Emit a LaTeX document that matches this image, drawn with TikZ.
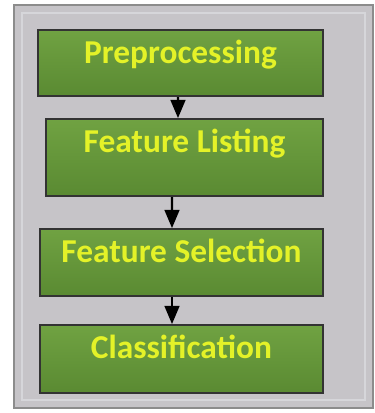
\documentclass[tikz,border=0pt]{standalone}
\usepackage{fontspec}
\setmainfont{Carlito}
\usetikzlibrary{arrows}

\definecolor{framegray}{RGB}{198,196,200}
\definecolor{framelight}{RGB}{214,214,218}
\definecolor{stagetop}{RGB}{112,162,66}
\definecolor{stagebot}{RGB}{90,138,50}
\definecolor{stagetext}{RGB}{228,242,40}

\begin{document}
\begin{tikzpicture}[x=0.02cm,y=-0.02cm,>=triangle 45,
   frame/.style={fill=framegray,draw=black!45,line width=1.5pt},
   bevel/.style={draw=framelight,line width=1.5pt},
   stage/.style={draw=black!80,line width=1.2pt,top color=stagetop,bottom color=stagebot,
      text=stagetext,font=\fontsize{19}{22}\selectfont\bfseries,
      inner xsep=0pt,inner ysep=0pt,text height=0.66cm,anchor=north}]
   \useasboundingbox (0,0) rectangle (375,413);
   \draw[frame] (14,5) rectangle (373,408);
   \draw[bevel] (22,13) rectangle (365,400);

   \node[stage,minimum width=5.7cm,text depth=0.66cm]  (pre) at (180.5,29)  {Preprocessing};
   \node[stage,minimum width=5.54cm,text depth=0.88cm] (list) at (184.5,118) {Feature Listing};
   \node[stage,minimum width=5.66cm,text depth=0.68cm] (sel) at (181.5,228) {Feature Selection};
   \node[stage,minimum width=5.66cm,text depth=0.7cm]  (cls) at (181.5,324) {Classification};

   \draw[->,line width=1.4pt] ([xshift=-0.05cm]pre.south) -- ([xshift=-0.13cm]list.north);
   \draw[->,line width=1.4pt] ([xshift=-0.25cm]list.south) -- ([xshift=-0.19cm]sel.north);
   \draw[->,line width=1.4pt] ([xshift=-0.19cm]sel.south) -- ([xshift=-0.19cm]cls.north);
\end{tikzpicture}
\end{document}
